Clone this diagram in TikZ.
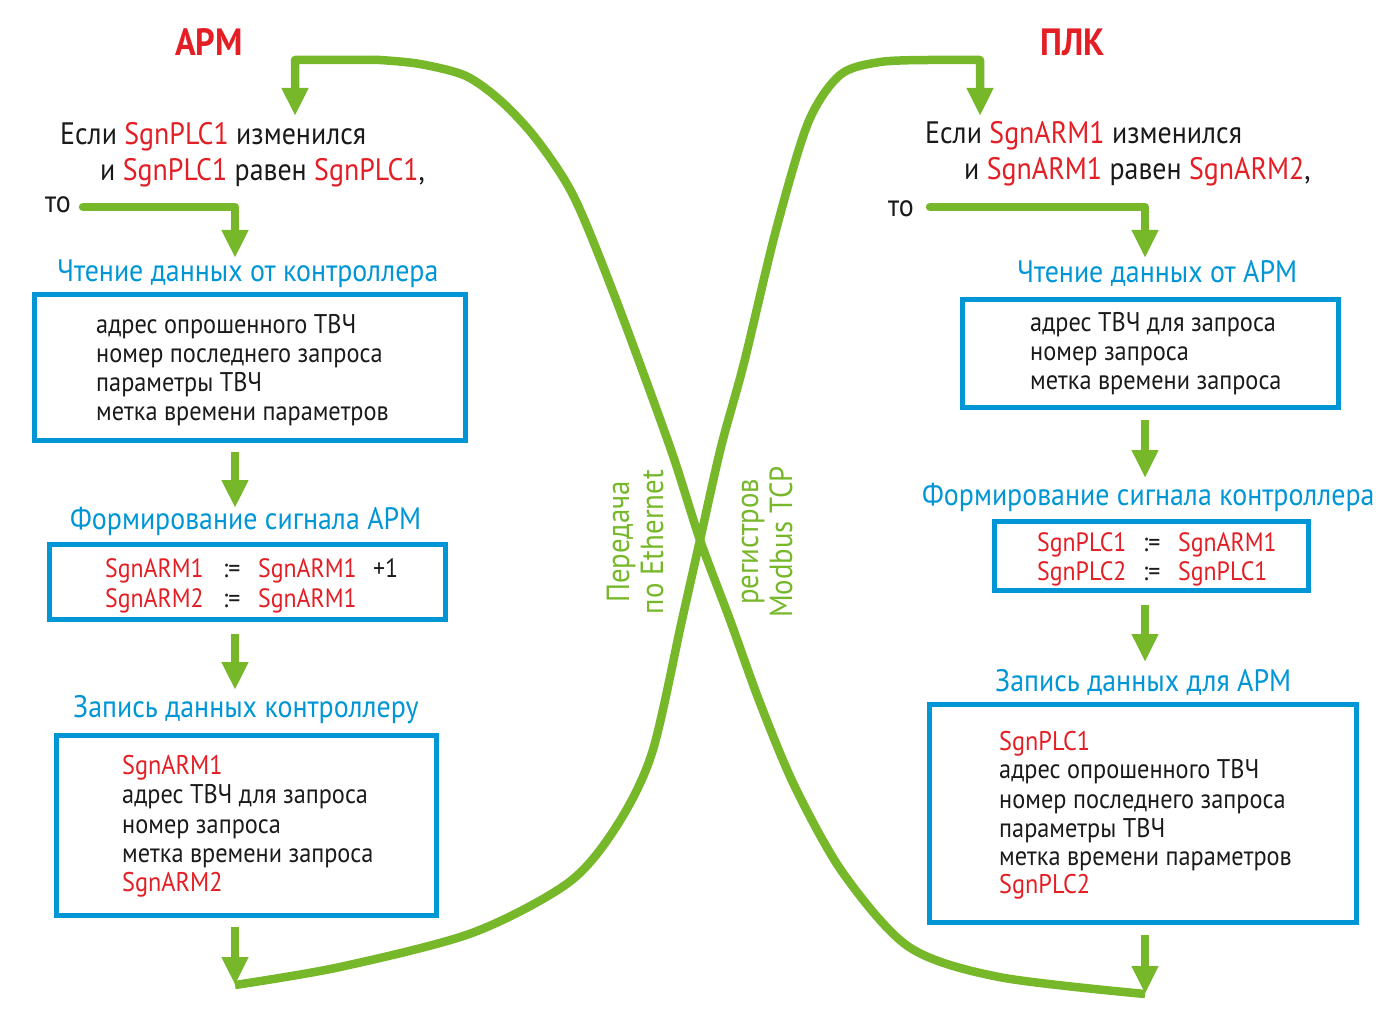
\documentclass[tikz,border=0pt]{standalone}
\usepackage{fontspec}
\setmainfont{PT Sans}[FakeStretch=0.9]
\usetikzlibrary{arrows.meta}
\definecolor{grn}{RGB}{118,184,42}
\definecolor{blu}{RGB}{0,150,214}
\definecolor{rd}{RGB}{227,30,36}
\definecolor{txt}{RGB}{26,26,26}
\newcommand{\sg}[1]{\textcolor{rd}{#1}}
\tikzset{
  flow/.style={draw=grn, line width=8.5pt, line join=round, -{Triangle[width=25pt,length=28pt]}},
  box/.style={draw=blu, line width=5pt},
  main/.style={anchor=base west, inner sep=0pt, font=\fontsize{31}{37}\selectfont, text=txt},
  head/.style={anchor=base west, inner sep=0pt, font=\fontsize{31}{35}\selectfont, text=blu},
  body/.style={anchor=base west, inner sep=0pt, font=\fontsize{27}{29}\selectfont, text=txt},
  eq/.style={anchor=base west, inner sep=0pt, font=\fontsize{26.5}{30}\selectfont, text=rd},
  ttl/.style={anchor=base, inner sep=0pt, font=\fontsize{38}{44}\selectfont\bfseries, text=rd},
  side/.style={inner sep=0pt, rotate=90, align=center, font=\fontsize{32}{34}\selectfont, text=grn},
}
\begin{document}
\begin{tikzpicture}[x=1pt,y=-1pt]
\useasboundingbox (0,0) rectangle (1387,1035);
% ---------- left (ARM) ----------
\node[ttl] (tarm) at (209,56) {АРМ};
\node[main] (l1) at (60,145) {Если \sg{SgnPLC1} изменился};
\node[main] (l2) at (100,181) {и \sg{SgnPLC1} равен \sg{SgnPLC1},};
\node[main] (lto) at (45,213) {то};
\node[head] (lh1) at (57,281) {Чтение данных от контроллера};
\draw[box] (34.5,294.5) rectangle (465.5,440.5);
\node[body] (lb1a) at (96,333) {адрес опрошенного ТВЧ};
\node[body] (lb1b) at (96,362) {номер последнего запроса};
\node[body] (lb1c) at (96,391) {параметры ТВЧ};
\node[body] (lb1d) at (96,420) {метка времени параметров};
\node[head] (lh2) at (70,529) {Формирование сигнала АРМ};
\draw[box] (49.5,544.5) rectangle (445.5,619.5);
\node[eq] (le1) at (105,577) {SgnARM1};
\node[eq,text=txt] (le2) at (223,577) {:=};
\node[eq] (le3) at (258,577) {SgnARM1};
\node[eq,text=txt] (le4) at (373,577) {+1};
\node[eq] (le5) at (105,607) {SgnARM2};
\node[eq,text=txt] (le6) at (223,607) {:=};
\node[eq] (le7) at (258,607) {SgnARM1};
\node[head] (lh3) at (73,717) {Запись данных контроллеру};
\draw[box] (56.5,735.5) rectangle (436.5,915.5);
\node[body,text=rd] (lb3a) at (122,774) {SgnARM1};
\node[body] (lb3b) at (122,803) {адрес ТВЧ для запроса};
\node[body] (lb3c) at (122,833) {номер запроса};
\node[body] (lb3d) at (122,862) {метка времени запроса};
\node[body,text=rd] (lb3e) at (122,891) {SgnARM2};
% ---------- right (PLC) ----------
\node[ttl] (tplc) at (1073,56) {ПЛК};
\node[main] (r1) at (925,144) {Если \sg{SgnARM1} изменился};
\node[main] (r2) at (964,180) {и \sg{SgnARM1} равен \sg{SgnARM2},};
\node[main] (rto) at (888,217) {то};
\node[head] (rh1) at (1017,283) {Чтение данных от АРМ};
\draw[box] (962,299.5) rectangle (1338,407);
\node[body] (rb1a) at (1030,331) {адрес ТВЧ для запроса};
\node[body] (rb1b) at (1030,360) {номер запроса};
\node[body] (rb1c) at (1030,389) {метка времени запроса};
\node[head] (rh2) at (922,505) {Формирование сигнала контроллера};
\draw[box] (994.5,521.5) rectangle (1308.5,590.5);
\node[eq] (re1) at (1037,551) {SgnPLC1};
\node[eq,text=txt] (re2) at (1143,551) {:=};
\node[eq] (re3) at (1178,551) {SgnARM1};
\node[eq] (re4) at (1037,580) {SgnPLC2};
\node[eq,text=txt] (re5) at (1143,580) {:=};
\node[eq] (re6) at (1178,580) {SgnPLC1};
\node[head] (rh3) at (995,691) {Запись данных для АРМ};
\draw[box] (929.5,704.5) rectangle (1356.5,922.5);
\node[body,text=rd] (rb3a) at (999,750) {SgnPLC1};
\node[body] (rb3b) at (999,778) {адрес опрошенного ТВЧ};
\node[body] (rb3c) at (999,808) {номер последнего запроса};
\node[body] (rb3d) at (999,837) {параметры ТВЧ};
\node[body] (rb3e) at (999,865) {метка времени параметров};
\node[body,text=rd] (rb3f) at (999,893) {SgnPLC2};
% ---------- middle labels ----------
\node[side] (eth) at (635,542) {Передача\\по Ethernet};
\node[side] (mtcp) at (767,542) {регистров\\Modbus TCP};
% ---------- coordinates ----------
\coordinate (toLs) at (83,207);  \coordinate (toLc) at (235,207); \coordinate (toLe) at (235,258);
\coordinate (toRs) at (930,207); \coordinate (toRc) at (1145,207); \coordinate (toRe) at (1145,258);
\coordinate (a1s) at (235,452); \coordinate (a1e) at (235,508);
\coordinate (a2s) at (235,634); \coordinate (a2e) at (235,690);
\coordinate (a3s) at (235,927); \coordinate (a3e) at (235,985);
\coordinate (b1s) at (1145,420); \coordinate (b1e) at (1145,478);
\coordinate (b2s) at (1145,605); \coordinate (b2e) at (1145,662);
\coordinate (b3s) at (1145,935); \coordinate (b3e) at (1145,994);
\coordinate (armTopC) at (295,60); \coordinate (armTop) at (295,116);
\coordinate (plcTopC) at (980,60); \coordinate (plcTop) at (980,116);
% ---------- arrows ----------
\draw[flow,line cap=round] (toLs) -- (toLc) -- (toLe);
\draw[flow,line cap=round] (toRs) -- (toRc) -- (toRe);
\draw[flow] (a1s) -- (a1e);
\draw[flow] (a2s) -- (a2e);
\draw[flow] (a3s) -- (a3e);
\draw[flow] (b1s) -- (b1e);
\draw[flow] (b2s) -- (b2e);
\draw[flow] (b3s) -- (b3e);
% ARM -> PLC
\draw[flow] plot[smooth] coordinates {(a3e) (340,967) (472,933) (568,883) (616,827) (652,753) (682,620) (700,540) (721,447) (744,363) (776,230) (808,123) (840,75) (880,62) (930,60)} -- (plcTopC) -- (plcTop);
% PLC -> ARM
\draw[flow] plot[smooth] coordinates {(b3e) (999,977) (909,947) (843,873) (795,787) (760,703) (730,620) (700,540) (670,447) (615,297) (574,197) (537,140) (502,102) (466,76) (420,64) (380,60)} -- (armTopC) -- (armTop);
\end{tikzpicture}
\end{document}
